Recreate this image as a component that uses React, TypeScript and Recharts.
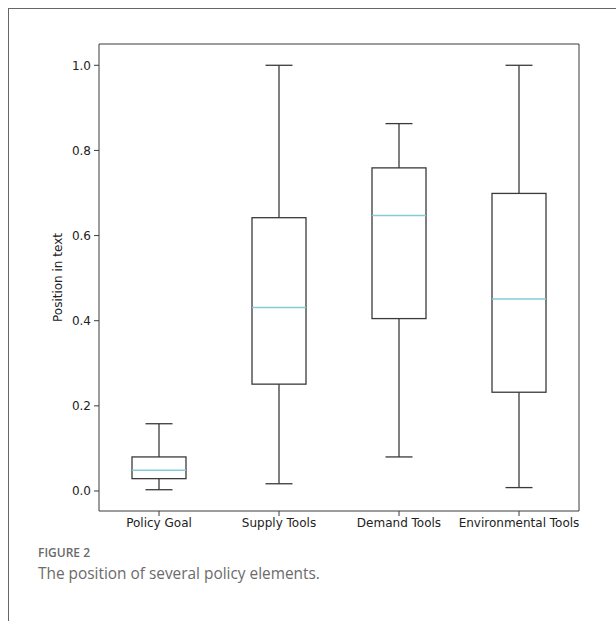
import { ComposedChart, Bar, XAxis, YAxis, Label } from "recharts";

// box statistics
const categories = ["Policy Goal", "Supply Tools", "Demand Tools", "Environmental Tools"];
const whiskerLow = [0.003, 0.017, 0.08, 0.008];
const q1 = [0.029, 0.251, 0.405, 0.232];
const median = [0.049, 0.431, 0.647, 0.451];
const q3 = [0.08, 0.642, 0.759, 0.699];
const whiskerHigh = [0.158, 1.0, 0.863, 1.0];
const yTicks = [0, 0.2, 0.4, 0.6, 0.8, 1.0];

const data = categories.map((name, i) => ({
  name,
  range: [whiskerLow[i], whiskerHigh[i]],
  lo: whiskerLow[i],
  q1: q1[i],
  med: median[i],
  q3: q3[i],
  hi: whiskerHigh[i],
}));

const INK = "#3a3a3a";
const MEDIAN = "#84cbd8";
const FONT = "'DejaVu Sans', sans-serif";

type BoxShapeProps = {
  x?: number;
  y?: number;
  width?: number;
  height?: number;
  payload?: { lo: number; q1: number; med: number; q3: number; hi: number };
};

function BoxShape({ x = 0, y = 0, width = 0, height = 0, payload }: BoxShapeProps) {
  if (!payload) return null;
  const { lo, q1: b1, med, q3: b3, hi } = payload;
  // bar spans lo..hi, so map values linearly inside it
  const py = (v: number) => y + (height * (hi - v)) / (hi - lo);
  const cx = x + width / 2;
  const cap = width / 4;
  return (
    <g>
      <line x1={cx} x2={cx} y1={py(hi)} y2={py(b3)} stroke={INK} strokeWidth={1.3} />
      <line x1={cx} x2={cx} y1={py(b1)} y2={py(lo)} stroke={INK} strokeWidth={1.3} />
      <line x1={cx - cap} x2={cx + cap} y1={py(hi)} y2={py(hi)} stroke={INK} strokeWidth={1.3} />
      <line x1={cx - cap} x2={cx + cap} y1={py(lo)} y2={py(lo)} stroke={INK} strokeWidth={1.3} />
      <rect x={x} y={py(b3)} width={width} height={py(b1) - py(b3)} fill="none" stroke={INK} strokeWidth={1.3} />
      <line x1={x} x2={x + width} y1={py(med)} y2={py(med)} stroke={MEDIAN} strokeWidth={1.5} />
    </g>
  );
}

export default function App() {
  return (
    <div style={{ position: "absolute", left: 0, top: 0, width: 616, height: 621, overflow: "hidden", background: "#fff" }}>
      <div
        style={{
          position: "absolute",
          left: 8,
          top: 8,
          width: 640,
          height: 640,
          borderLeft: "1px solid #666",
          borderTop: "1px solid #666",
        }}
      />
      <div style={{ position: "absolute", left: 0, top: 0 }}>
        <ComposedChart
          width={616}
          height={540}
          data={data}
          margin={{ top: 43, right: 36, bottom: 9, left: 39 }}
          barSize={54}
        >
          <XAxis
            dataKey="name"
            tickLine={{ stroke: INK }}
            axisLine={{ stroke: INK }}
            tickSize={5}
            tickMargin={2}
            tick={{ fontSize: 12, fill: "#222", fontFamily: FONT }}
            interval={0}
            height={20}
          />
          <XAxis xAxisId="top" orientation="top" dataKey="name" tick={false} tickLine={false} axisLine={{ stroke: INK }} height={1} />
          <YAxis
            type="number"
            domain={[-0.047, 1.05]}
            ticks={yTicks}
            tickFormatter={(v: number) => v.toFixed(1)}
            tickLine={{ stroke: INK }}
            axisLine={{ stroke: INK }}
            tickSize={5}
            tickMargin={3}
            tick={{ fontSize: 12, fill: "#222", fontFamily: FONT }}
            width={60}
            allowDataOverflow
          >
            <Label
              value="Position in text"
              angle={-90}
              position="insideLeft"
              offset={19}
              style={{ fontSize: 12, fill: "#222", fontFamily: FONT, textAnchor: "middle" }}
            />
          </YAxis>
          <YAxis yAxisId="right" orientation="right" tick={false} tickLine={false} axisLine={{ stroke: INK }} width={1} />
          <Bar dataKey="range" shape={<BoxShape />} isAnimationActive={false} />
        </ComposedChart>
      </div>
      <div
        style={{
          position: "absolute",
          left: 38,
          top: 544,
          fontFamily: "'Open Sans', sans-serif",
          color: "#6b6b6b",
          fontSize: 12,
          fontWeight: 600,
        }}
      >
        FIGURE 2
      </div>
      <div
        style={{
          position: "absolute",
          left: 38,
          top: 563,
          fontFamily: "'Open Sans', sans-serif",
          color: "#6b6b6b",
          fontSize: 15.4,
        }}
      >
        The position of several policy elements.
      </div>
    </div>
  );
}
